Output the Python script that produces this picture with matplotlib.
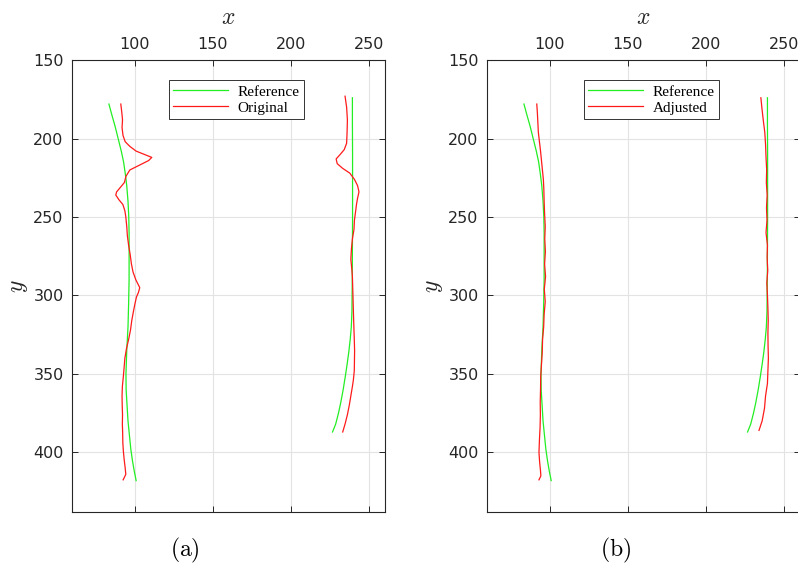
import matplotlib
matplotlib.use("Agg")
import matplotlib.pyplot as plt

plt.rcParams["mathtext.fontset"] = "cm"

# Reference contours (shared by both panels)
ref_left_y = [178, 185, 192, 200, 208, 215, 222, 230, 240, 250, 260, 275, 290, 305, 320,
              335, 350, 360, 370, 380, 390, 398, 405, 412, 418]
ref_left_x = [83.6, 85.5, 87.5, 89.5, 91.5, 93, 94, 95, 95.8, 96.3, 96.5, 96.5, 96.5, 96.2, 95.8,
              95, 94.5, 94.6, 95.2, 95.8, 96.8, 97.6, 98.6, 99.8, 101]
ref_right_y = [174, 190, 210, 230, 250, 270, 290, 310, 320, 328, 336, 344, 352, 360, 368, 375, 382, 387]
ref_right_x = [239.2, 239.2, 239.3, 239.3, 239.3, 239.2, 239.1, 238.9, 238.5, 237.8, 236.9, 235.8,
               234.6, 233.3, 231.8, 230.3, 228.5, 226.5]

# Original (unadjusted) contours
orig_left_y = [178, 183, 188, 193, 198, 202, 205, 208, 210, 212, 214, 217, 220, 224, 228, 231, 234,
               236, 239, 242, 246, 250, 256, 262, 268, 274, 280, 285, 290, 295, 298, 301, 305, 310,
               316, 322, 328, 334, 340, 346, 352, 358, 364, 370, 376, 382, 388, 394, 400, 405, 410,
               414, 417.5]
orig_left_x = [91.2, 91.8, 92.3, 92.0, 92.6, 94, 97, 101, 106, 111, 109, 103, 97, 94.5, 93.5, 91, 88.5,
               88, 90, 92.5, 93.8, 94.4, 95, 95.4, 96.2, 97.2, 98, 99, 100.8, 103.3, 102.5, 101.2, 100.3,
               99.3, 98.2, 97.4, 96.2, 94.8, 93.8, 93.3, 92.8, 92.2, 92, 92.1, 92.3, 92.2, 92.4, 92.5,
               92.9, 93.4, 94, 94.4, 92.7]
orig_right_y = [173, 180, 188, 196, 203, 207, 210, 213, 216, 219, 222, 226, 230, 234, 238, 242, 246,
                252, 258, 264, 270, 277, 283, 288, 295, 302, 309, 316, 322, 328, 335, 342, 348, 354,
                358, 364, 370, 376, 382, 387]
orig_right_x = [234.5, 235.5, 236, 235.8, 235.5, 234, 231.5, 228.8, 229.5, 233, 237.5, 240.5, 242.5,
                243.4, 242.5, 241.8, 241.3, 240.5, 240.2, 239.2, 238.6, 238.2, 238.8, 239.2, 239.4,
                239.6, 239.8, 240, 240.2, 240.4, 240.6, 240.5, 240.4, 239.8, 239.2, 238.2, 237.2, 236,
                234.5, 233]

# Adjusted contours
adj_left_y = [178, 184, 190, 196, 202, 208, 214, 220, 226, 232, 240, 248, 256, 264, 272, 280, 288,
              296, 304, 312, 320, 328, 336, 344, 352, 360, 368, 376, 384, 392, 400, 406, 412, 415, 417.5]
adj_left_x = [91.8, 92.2, 92.5, 92.8, 93.5, 94.2, 94.8, 95.4, 96, 96.3, 96.5, 96.8, 97.2, 96.9, 97.3,
              96.8, 97.4, 96.6, 97.2, 96.5, 96.2, 95.5, 95.3, 94.8, 94.3, 94.2, 94, 94.1, 93.9, 93.5,
              93.2, 93.6, 94.2, 94.4, 93.2]
adj_right_y = [174, 180, 188, 196, 204, 212, 220, 228, 236, 244, 252, 260, 268, 276, 284, 292, 300,
               308, 316, 324, 332, 340, 348, 356, 364, 372, 380, 386]
adj_right_x = [235, 235.6, 236.5, 237.5, 238, 238.3, 238.7, 238.5, 239, 238.6, 238.9, 238.3, 239.2,
               239, 239.4, 238.8, 239.2, 239.5, 239.7, 239.5, 239.6, 239.8, 239.5, 239.2, 238, 237.3,
               235.8, 233.8]

panels = [
    ("Original", orig_left_x, orig_left_y, orig_right_x, orig_right_y, "(a)", 0.232),
    ("Adjusted", adj_left_x, adj_left_y, adj_right_x, adj_right_y, "(b)", 0.771),
]

fig = plt.figure(figsize=(7.98, 5.72), dpi=100)
ax_rects = [[0.0902, 0.1049, 0.3922, 0.790], [0.6103, 0.1049, 0.3922, 0.790]]
green = "#22ee22"
red = "#ff1a1a"
axc = "#262626"

for rect, (name, lx, ly, rx, ry, tag, tx) in zip(ax_rects, panels):
    ax = fig.add_axes(rect)
    ax.plot(ref_left_x, ref_left_y, color=green, lw=0.9, label="Reference")
    ax.plot(lx, ly, color=red, lw=0.9, label=name)
    ax.plot(ref_right_x, ref_right_y, color=green, lw=0.9)
    ax.plot(rx, ry, color=red, lw=0.9)

    ax.set_xlim(60, 260)
    ax.set_ylim(438, 150)
    ax.set_xticks([100, 150, 200, 250])
    ax.set_yticks([150, 200, 250, 300, 350, 400])
    ax.xaxis.tick_top()
    ax.xaxis.set_label_position("top")
    ax.tick_params(direction="in", top=True, bottom=True, left=True, right=True,
                   labelsize=11.5, colors=axc, length=4, width=0.7, pad=6)
    ax.grid(True, color="#e3e3e3", lw=0.8)
    ax.set_axisbelow(True)
    for sp in ax.spines.values():
        sp.set_color(axc)
        sp.set_linewidth(0.8)

    ax.set_xlabel(r"$x$", fontsize=17, labelpad=9, color=axc)
    ax.set_ylabel(r"$y$", fontsize=17, labelpad=2, color=axc)

    leg = ax.legend(loc="upper center", bbox_to_anchor=(0.525, 0.972), fancybox=False,
                    edgecolor="#333333", framealpha=1, handlelength=3.6, borderpad=0.3,
                    labelspacing=0.15, handletextpad=0.6,
                    prop={"family": "Liberation Serif", "size": 11})
    leg.get_frame().set_linewidth(0.7)

    fig.text(tx, 0.038, r"$\mathrm{" + tag + "}$", fontsize=17, ha="center", va="center")

fig.savefig("out.png", dpi=100)
